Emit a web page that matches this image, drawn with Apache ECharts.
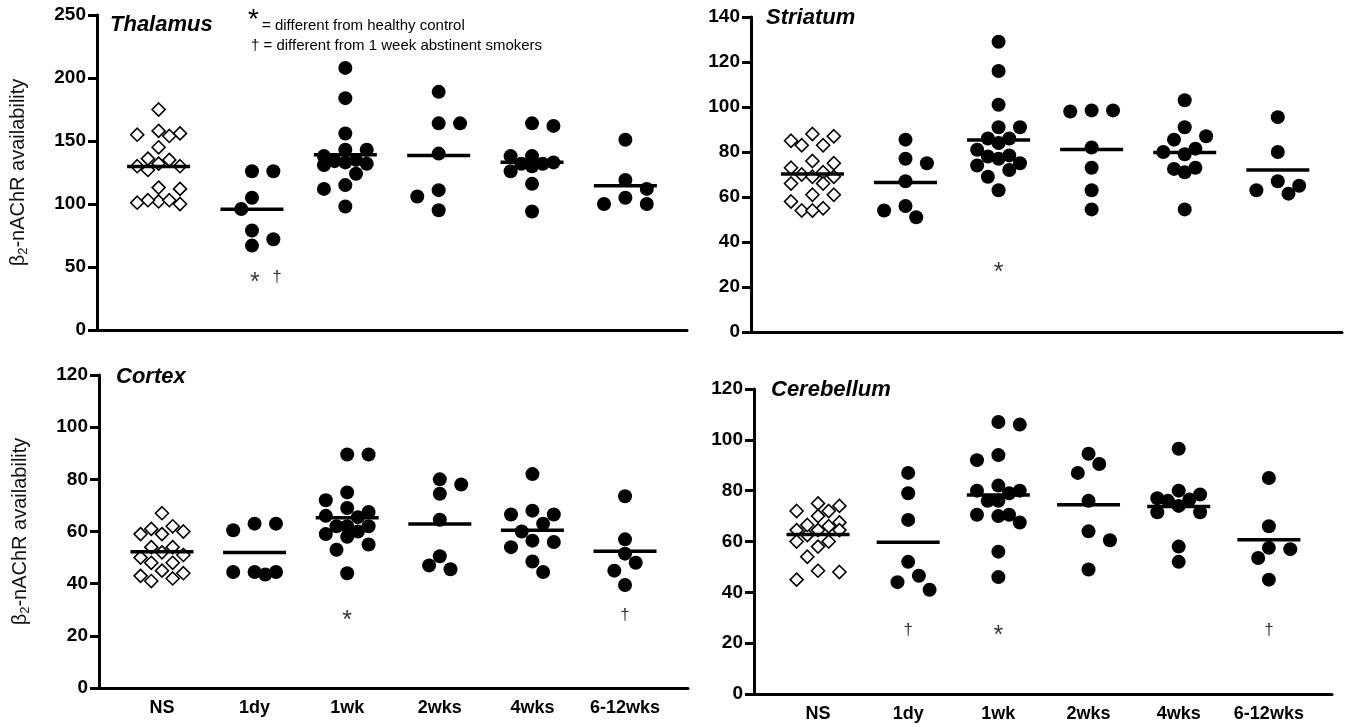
<!DOCTYPE html>
<html><head><meta charset="utf-8">
<script src="https://cdn.jsdelivr.net/npm/echarts@6/dist/echarts.min.js"></script>
<style>html,body{margin:0;padding:0;background:#fff}#c{width:1348px;height:727px}</style>
</head><body><div id="c"></div>
<script>
// ---------- DATA ----------
const categories = ['NS', '1dy', '1wk', '2wks', '4wks', '6-12wks'];

// β2-nAChR availability per group (NS, 1dy, 1wk, 2wks, 4wks, 6-12wks)
const thalamus = [
  [175,155,158,156,154,145,130,135,127,136,132,130,113,112,102,103,100,103,101],
  [126,126,105,96,79,72,67],
  [208,184,156,143,143,138,135,134,133,132,131,124,115,112,98],
  [189,164,164,140,111,106,95],
  [164,162,138,138,133,132,132,130,126,116,94],
  [151,119,112,105,100,100]
];
const striatum = [
  [87,83,85,88,83,75,76,73,71,69,70,69,66,66,61,61,58,55,54,54],
  [85.5,77,75,67,56,54,51],
  [129,116,101,91,91,86,84,86,81,78,78.5,77,75,74,72,69,63],
  [98.5,98,98.5,82,73,63,54.5],
  [103,91,87,85.5,79,81.5,80,72.5,71,73,54.5],
  [95.5,80,67,65,63,61.5]
];
const cortex = [
  [67,60,62,59,61,59,52,54,54,51,50,48,48,43,45,44,41,42],
  [63,60.5,63,44.5,43.5,44.5,44.5],
  [89.5,89.5,75,72,69,67.5,66,65.5,62,62,60,62,58,59,55,53,44],
  [80,78,74.5,64.5,50.5,45.5,47],
  [82,68,66.5,66.5,63,60,56,56.5,54,48.5,44.5],
  [73.5,57,51.5,48,45,39.5]
];
const cerebellum = [
  [75,72,72,74,70,67.5,66,64.5,62.5,66.5,64.5,64.5,60,60,58,54,48.5,48,45],
  [87,79,68.5,52,46.5,44,41],
  [107,106,92,94,80,82,79,80,76,76,70.5,70.5,70,67.5,56,46],
  [90.5,94.5,87,76,64,60.5,49],
  [96.5,80,78.5,76,77,76.5,74,71.5,71.5,58,52],
  [85,66,57,57.5,53.5,45]
];

// significance marks per category
const thalamusSig   = ['', '* †', '', '', '', ''];
const striatumSig   = ['', '', '*', '', '', ''];
const cortexSig     = ['', '', '*', '', '', '†'];
const cerebellumSig = ['', '†', '*', '', '', '†'];

const noteStar   = '= different from healthy control';
const noteDagger = '† = different from 1 week abstinent smokers';

// ---------- LAYOUT ----------
const FONT = '"Liberation Sans", Arial, sans-serif';
const panels = [
  { title:'Thalamus', data:thalamus, sig:thalamusSig, sigY:42,
    grid:{left:97, top:15, width:590, height:315}, xMin:-0.66, xMax:5.66,
    yMax:250, yInt:50, showX:false, yName:true, titlePos:[110,14] },
  { title:'Striatum', data:striatum, sig:striatumSig, sigY:29,
    grid:{left:751, top:17, width:591, height:315}, xMin:-0.66, xMax:5.69,
    yMax:140, yInt:20, showX:false, yName:false, titlePos:[766,7] },
  { title:'Cortex', data:cortex, sig:cortexSig, sigY:28,
    grid:{left:99, top:375, width:589, height:313}, xMin:-0.68, xMax:5.68,
    yMax:120, yInt:20, showX:true, yName:true, titlePos:[116,366] },
  { title:'Cerebellum', data:cerebellum, sig:cerebellumSig, sigY:25,
    grid:{left:754, top:389, width:578, height:305}, xMin:-0.71, xMax:5.70,
    yMax:120, yInt:20, showX:true, yName:false, titlePos:[771,379] }
];

const STEP = 10.7, COLLIDE = 14, MAXK = 2, HALF_MEAN = 31.5;

// deterministic beeswarm (max ±2 steps, like the original dot plot)
function swarm(values, pxX, pxY) {
  const order = values.map((v, i) => i).sort((a, b) => values[b] - values[a]);
  const placed = [], off = new Array(values.length);
  let nLeft = 0, nRight = 0;
  for (const i of order) {
    const yp = values[i] * pxY;
    const cands = [0];
    for (let k = 1; k <= MAXK; k++) cands.push(...(nRight > nLeft ? [-k, k] : [k, -k]));
    let chosen = null, best = -1, bestC = 0;
    for (const c of cands) {
      const xp = c * STEP;
      const md = placed.reduce((m, p) => Math.min(m, Math.hypot(p[0] - xp, p[1] - yp)), Infinity);
      if (md >= COLLIDE) { chosen = c; break; }
      if (md > best + 0.5) { best = md; bestC = c; }
    }
    if (chosen === null) chosen = bestC;
    if (chosen > 0) nRight++; else if (chosen < 0) nLeft++;
    placed.push([chosen * STEP, yp]);
    off[i] = chosen * STEP / pxX;
  }
  return off;
}
const mean = a => a.reduce((s, v) => s + v, 0) / a.length;

const option = { animation:false, backgroundColor:'#fff',
  title:[], grid:[], xAxis:[], yAxis:[], series:[], graphic:[] };

panels.forEach((P, pi) => {
  const pxX = P.grid.width / (P.xMax - P.xMin);
  const pxY = P.grid.height / P.yMax;
  option.grid.push(Object.assign({containLabel:false}, P.grid));
  option.title.push({ text:P.title, left:P.titlePos[0], top:P.titlePos[1], padding:0,
    textStyle:{ fontSize:22, fontStyle:'italic', fontWeight:'bold', color:'#000', fontFamily:FONT } });
  option.xAxis.push({ gridIndex:pi, type:'value', min:P.xMin, max:P.xMax,
    axisLine:{ show:true, onZero:false, lineStyle:{ color:'#000', width:3 } },
    axisTick:{ show:false }, splitLine:{ show:false },
    axisLabel:{ show:P.showX, customValues:[0,1,2,3,4,5], formatter:v => categories[Math.round(v)],
      fontWeight:'bold', fontSize:18, color:'#000', fontFamily:FONT, margin:11 } });
  const yAx = { gridIndex:pi, type:'value', min:0, max:P.yMax, interval:P.yInt,
    axisLine:{ show:true, onZero:false, lineStyle:{ color:'#000', width:3 } },
    axisTick:{ show:true, length:9, lineStyle:{ color:'#000', width:3 } },
    splitLine:{ show:false },
    axisLabel:{ fontWeight:'bold', fontSize:19, color:'#000', fontFamily:FONT, margin:11 } };
  if (P.yName) {
    Object.assign(yAx, { name:'{a|β}{s|2}{a|-nAChR availability}', nameLocation:'middle', nameGap:67, nameRotate:90,
      nameTextStyle:{ rich:{
        a:{ fontSize:20, fontFamily:FONT, color:'#111', lineHeight:24, verticalAlign:'middle' },
        s:{ fontSize:13, fontFamily:FONT, color:'#111', lineHeight:24, verticalAlign:'bottom' } } } });
  }
  option.yAxis.push(yAx);

  const diamonds = [], circles = [], means = [], sigs = [];
  P.data.forEach((vals, ci) => {
    const off = swarm(vals, pxX, pxY);
    vals.forEach((v, j) => (ci === 0 ? diamonds : circles).push([ci + off[j], v]));
    means.push([ci, mean(vals)]);
    const marks = P.sig[ci].split(' ').filter(s => s);
    marks.forEach((m, k) => {
      const dx = marks.length > 1 ? 3 + k * 22 : 0;
      sigs.push({ value:[ci, P.sigY], label:{ formatter:m, offset:[dx, m === '*' ? 6 : 0],
        fontSize: m === '*' ? 25 : 17 } });
    });
  });
  option.series.push({ type:'scatter', xAxisIndex:pi, yAxisIndex:pi, silent:true, data:diamonds,
    symbol:'diamond', symbolSize:13, itemStyle:{ color:'#fff', borderColor:'#000', borderWidth:1.6, opacity:1 }, z:2 });
  option.series.push({ type:'scatter', xAxisIndex:pi, yAxisIndex:pi, silent:true, data:circles,
    symbol:'circle', symbolSize:14, itemStyle:{ color:'#000', opacity:1 }, z:2 });
  option.series.push({ type:'custom', xAxisIndex:pi, yAxisIndex:pi, silent:true, data:means, z:3,
    renderItem:(params, api) => {
      const c = api.coord([api.value(0), api.value(1)]);
      return { type:'line', shape:{ x1:c[0] - HALF_MEAN, y1:c[1], x2:c[0] + HALF_MEAN, y2:c[1] },
        style:{ stroke:'#000', lineWidth:3.5 } };
    } });
  option.series.push({ type:'scatter', xAxisIndex:pi, yAxisIndex:pi, silent:true, data:sigs, z:4,
    symbol:'circle', symbolSize:2, itemStyle:{ color:'rgba(0,0,0,0)' },
    label:{ show:true, position:'inside', color:'#000', fontFamily:FONT } });
});

option.graphic = [
  { type:'text', x:248, y:6, style:{ text:'*', font:'28px ' + FONT, fill:'#000' } },
  { type:'text', x:262, y:26, style:{ text:noteStar, font:'15px ' + FONT, fill:'#000', verticalAlign:'middle' } },
  { type:'text', x:251, y:46, style:{ text:noteDagger, font:'15px ' + FONT, fill:'#000', verticalAlign:'middle' } }
];

const chart = echarts.init(document.getElementById('c'), null, { renderer:'canvas' });
chart.setOption(option);
</script></body></html>
